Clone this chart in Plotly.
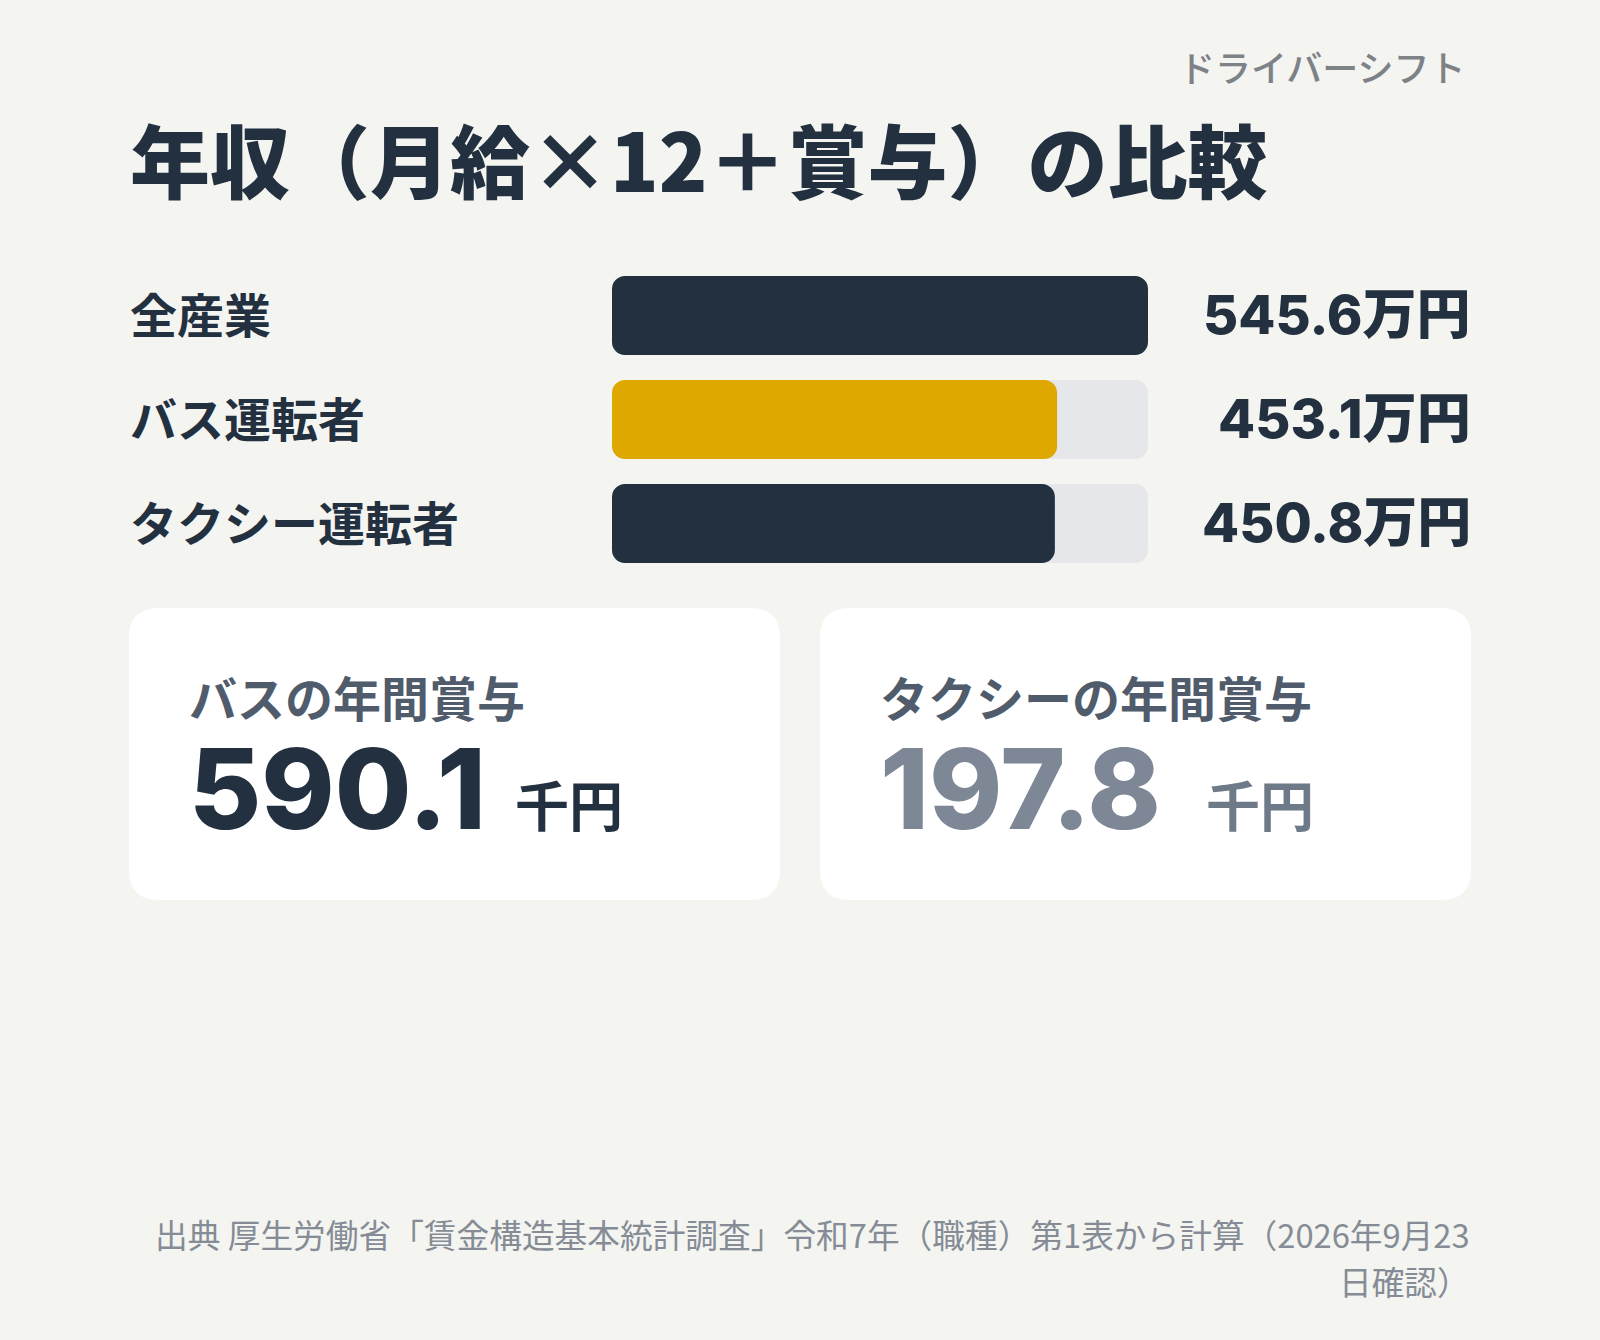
import plotly.graph_objects as go

W, H = 1600, 1340

# ---- data ----
categories = ["全産業", "バス運転者", "タクシー運転者"]
annual_income = [545.6, 453.1, 450.8]  # 万円
bar_colors = ["#22303f", "#dfa800", "#22303f"]

bonus_titles = ["バスの年間賞与", "タクシーの年間賞与"]
bonus_values = [590.1, 197.8]  # 千円
bonus_unit = "千円"
income_unit = "万円"

title = "年収（月給×12＋賞与）の比較"
brand = "ドライバーシフト"
source_lines = ["出典 厚生労働省「賃金構造基本統計調査」令和7年（職種）第1表から計算（2026年9月23",
                "日確認）"]

FONT = "Inter, 'Noto Sans CJK JP', sans-serif"
CJK = "'Noto Sans CJK JP', Inter, sans-serif"
DARK = "#22303f"
BG = "#f4f4f1"
TRACK = "#e5e7eb"
RADIUS = 13


def px(x):
    return x / W


def py(y):
    return 1 - y / H


fig = go.Figure()


def add_rounded_bars(values, colors):
    """Each bar is drawn as two overlapping halves so both ends get rounded."""
    fig.add_trace(go.Bar(
        y=categories, x=[-v * 0.55 for v in values], base=[v * 0.55 for v in values],
        orientation="h", width=0.76, hoverinfo="skip", showlegend=False,
        marker=dict(color=colors, cornerradius=RADIUS, line=dict(width=0))))
    fig.add_trace(go.Bar(
        y=categories, x=[v * 0.55 for v in values], base=[v * 0.45 for v in values],
        orientation="h", width=0.76, hoverinfo="skip", showlegend=False,
        marker=dict(color=colors, cornerradius=RADIUS, line=dict(width=0))))


track_max = max(annual_income)
add_rounded_bars([track_max] * len(categories), [TRACK] * len(categories))
add_rounded_bars(annual_income, bar_colors)

annotations = []
shapes = []

for c, v in zip(categories, annual_income):
    annotations.append(dict(
        x=px(128), xref="paper", xanchor="left", y=c, yref="y", yanchor="middle", yshift=3,
        text=c, showarrow=False,
        font=dict(family=CJK, size=47, color=DARK, weight=700)))
    annotations.append(dict(
        x=px(1473), xref="paper", xanchor="right", y=c, yref="y", yanchor="middle", yshift=1,
        text=f"{v}{income_unit}", showarrow=False,
        font=dict(family=FONT, size=54, color=DARK, weight=800)))

# brand
annotations.append(dict(
    x=px(1468), xref="paper", xanchor="right", y=py(66), yref="paper", yanchor="middle",
    text=brand, showarrow=False,
    font=dict(family=CJK, size=36, color="#7d8287", weight=500)))

# title
annotations.append(dict(
    x=px(128), xref="paper", xanchor="left", y=py(157), yref="paper", yanchor="middle",
    text=title, showarrow=False,
    font=dict(family=CJK, size=80, color=DARK, weight=800)))


def rounded_rect(x0, y0, x1, y1, r):
    X0, X1 = px(x0), px(x1)
    Y0, Y1 = py(y0), py(y1)
    rx, ry = r / W, r / H
    return (f"M {X0+rx},{Y0} L {X1-rx},{Y0} Q {X1},{Y0} {X1},{Y0-ry} "
            f"L {X1},{Y1+ry} Q {X1},{Y1} {X1-rx},{Y1} "
            f"L {X0+rx},{Y1} Q {X0},{Y1} {X0},{Y1+ry} "
            f"L {X0},{Y0-ry} Q {X0},{Y0} {X0+rx},{Y0} Z")


cards_x = [129, 820]
card_w = 651
num_colors = [DARK, "#7d8795"]
unit_colors = [DARK, "#6f7a88"]
for i, (t, v) in enumerate(zip(bonus_titles, bonus_values)):
    x0 = cards_x[i]
    shapes.append(dict(type="path", path=rounded_rect(x0, 608, x0 + card_w, 900, 30),
                       xref="paper", yref="paper", fillcolor="#ffffff",
                       line=dict(width=0), layer="below"))
    annotations.append(dict(
        x=px(x0 + 58), xref="paper", xanchor="left", y=py(696), yref="paper", yanchor="middle",
        text=t, showarrow=False,
        font=dict(family=CJK, size=48, color="#505c6b", weight=700)))
    annotations.append(dict(
        x=px(x0 + 58), xref="paper", xanchor="left", y=py(788), yref="paper", yanchor="middle",
        text=f"{v}", showarrow=False,
        font=dict(family=FONT, size=111, color=num_colors[i], weight=800)))
    annotations.append(dict(
        x=px(x0 + 384), xref="paper", xanchor="left", y=py(803), yref="paper", yanchor="middle",
        text=bonus_unit, showarrow=False,
        font=dict(family=CJK, size=54, color=unit_colors[i], weight=700)))

# source (two right-aligned lines)
for line, yc in zip(source_lines, [1233, 1280]):
    annotations.append(dict(
        x=px(1472), xref="paper", xanchor="right", y=py(yc), yref="paper", yanchor="middle",
        text=line, showarrow=False, align="right",
        font=dict(family=CJK, size=32.7, color="#858c95", weight=400)))

fig.update_layout(
    width=W, height=H, autosize=False,
    margin=dict(l=0, r=0, t=0, b=0, pad=0),
    paper_bgcolor=BG, plot_bgcolor="rgba(0,0,0,0)",
    barmode="overlay", showlegend=False,
    xaxis=dict(domain=[px(612), px(1148)], range=[0, track_max], visible=False, fixedrange=True),
    yaxis=dict(domain=[py(575.5), py(263.5)], type="category", range=[2.5, -0.5],
               visible=False, fixedrange=True),
    annotations=annotations, shapes=shapes,
)

fig.write_html("out.html", config={"displayModeBar": False})
